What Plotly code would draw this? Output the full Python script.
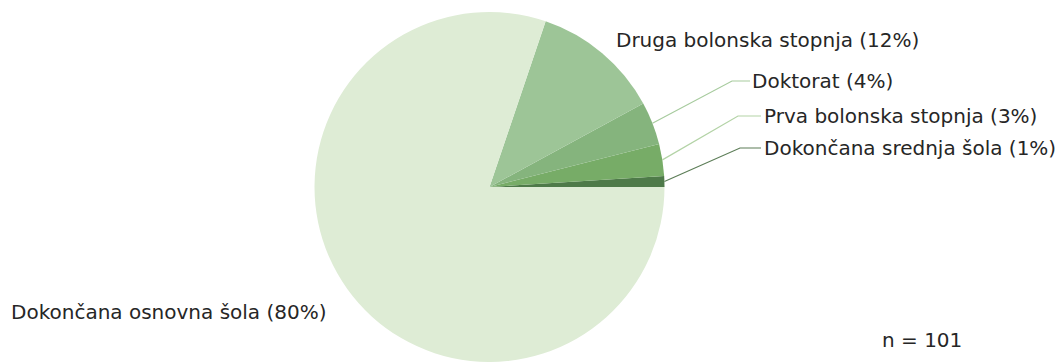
import math
import plotly.graph_objects as go

# ---- data ----
categories = ["Dokončana srednja šola", "Prva bolonska stopnja", "Doktorat",
              "Druga bolonska stopnja", "Dokončana osnovna šola"]
counts = [1, 3, 4, 12, 81]
pct_labels = ["1%", "3%", "4%", "12%", "80%"]
n_total = 101

slice_colors = ["#4e7a49", "#77ac67", "#85b47d", "#9dc597", "#deecd5"]
line_colors = ["#5c7d57", "#b3d3a6", "#a7cb9e", None, None]

W, H = 1063, 362
CX, CY, R = 489.5, 187.0, 175.0  # pie centre / radius in pixels

total = sum(counts)
# plotly (counterclockwise) starts the first slice at rotation + its own size,
# so shift back so the first slice begins exactly at 3 o'clock
rot = 90 - 360 * counts[0] / total

fig = go.Figure(go.Pie(
    labels=categories,
    values=counts,
    sort=False,
    direction="counterclockwise",
    rotation=rot,
    textinfo="none",
    hoverinfo="label+percent",
    marker=dict(colors=slice_colors, line=dict(width=0)),
    domain=dict(x=[CX / W - 0.17, CX / W + 0.17], y=[0, (2 * R) / H]),
    showlegend=False,
))

def px(x):
    return x / W

def py(y):
    return 1 - y / H

FONT = dict(family="DejaVu Sans, Verdana, sans-serif", size=20, color="#262626")

# label positions (layout): (x, y, has_leader, elbow_x_start, elbow_x_end)
label_pos = {
    "Dokončana srednja šola": (762, 148, True, 740, 761),
    "Prva bolonska stopnja": (762, 116, True, 738, 761),
    "Doktorat": (750, 81, True, 732, 750),
    "Druga bolonska stopnja": (614, 40, False, 0, 0),
    "Dokončana osnovna šola": (9, 312, False, 0, 0),
}

shapes = []
annotations = []
cum = 0
for i, (cat, v) in enumerate(zip(categories, counts)):
    mid = (cum + v / 2) / total * 2 * math.pi
    cum += v
    lx, ly, leader, ex0, ex1 = label_pos[cat]
    if leader:
        sx = CX + R * math.cos(mid)
        sy = CY - R * math.sin(mid)
        path = f"M {px(sx)} {py(sy)} L {px(ex0)} {py(ly)} L {px(ex1)} {py(ly)}"
        shapes.append(dict(type="path", xref="paper", yref="paper", path=path,
                           line=dict(color=line_colors[i], width=1.2)))
    annotations.append(dict(
        x=px(lx), y=py(ly), xref="paper", yref="paper",
        text=f"{cat} ({pct_labels[i]})", showarrow=False,
        xanchor="left", yanchor="middle", font=FONT,
    ))

annotations.append(dict(
    x=px(880), y=py(340), xref="paper", yref="paper",
    text=f"n = {n_total}", showarrow=False, xanchor="left", yanchor="middle",
    font=FONT,
))

fig.update_layout(
    width=W, height=H,
    margin=dict(l=0, r=0, t=0, b=0),
    paper_bgcolor="white", plot_bgcolor="white",
    shapes=shapes, annotations=annotations,
)

fig.write_html("out.html")
